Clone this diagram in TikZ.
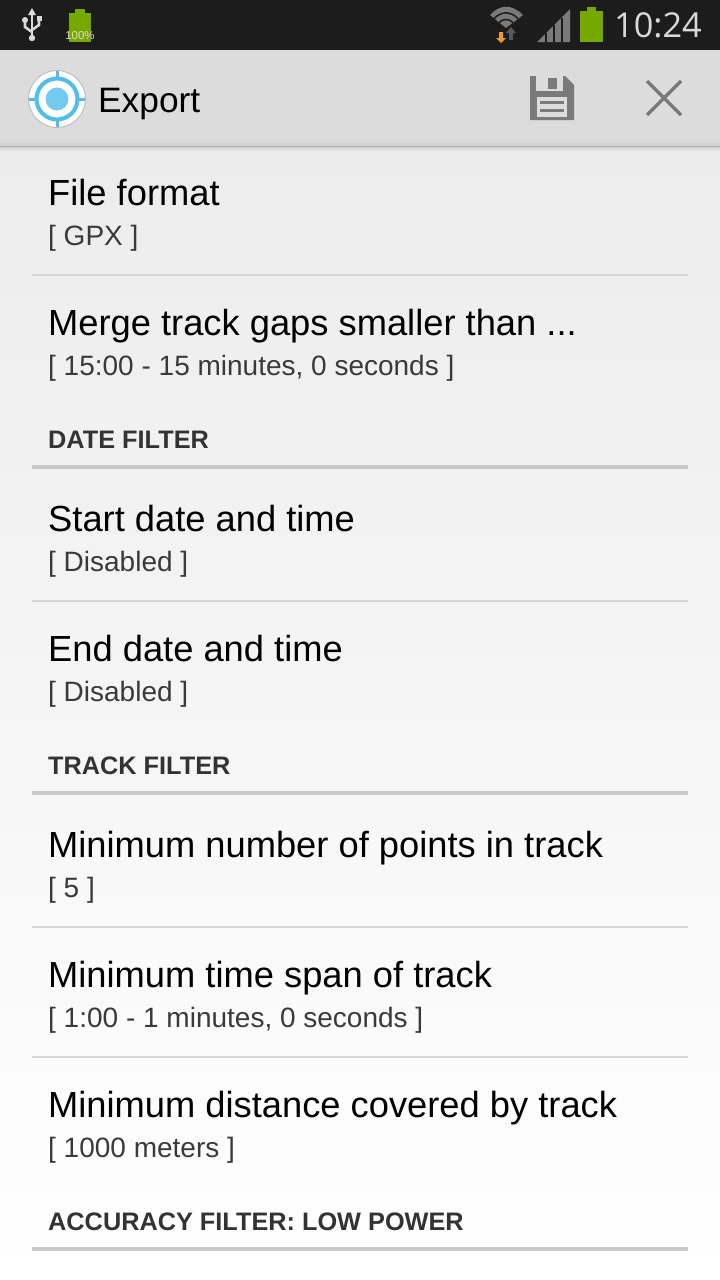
\documentclass[tikz,border=0pt]{standalone}
\usepackage{fontspec}
\setmainfont{Liberation Sans}
\newfontfamily\clockfont{Open Sans}
\usetikzlibrary{positioning}
\definecolor{barblack}{HTML}{1C1C1C}
\definecolor{bargray}{HTML}{DCDCDC}
\definecolor{bandgray}{HTML}{D2D2D2}
\definecolor{bgtop}{HTML}{ECECEC}
\definecolor{bgbottom}{HTML}{FFFFFF}
\definecolor{rulelight}{HTML}{D6D6D6}
\definecolor{ruledark}{HTML}{C8C8C8}
\definecolor{shadowgray}{HTML}{B0B0B0}
\definecolor{icongray}{HTML}{7A7A7A}
\definecolor{batgreen}{HTML}{76A900}
\definecolor{skyblue}{HTML}{4FBDEE}
\definecolor{subtext}{HTML}{3A3A3A}
\definecolor{headtext}{HTML}{333333}
\definecolor{arroworange}{HTML}{E89A2C}
\tikzset{
  itemtitle/.style={anchor=base west, inner sep=0pt, font=\fontsize{36.3}{36}\selectfont, text=black},
  itemvalue/.style={anchor=base west, inner sep=0pt, font=\fontsize{28}{28}\selectfont, text=subtext},
  sectionhead/.style={anchor=base west, inner sep=0pt, font=\fontsize{25.3}{26}\selectfont\bfseries, text=headtext},
  thinrule/.style={draw=rulelight, line width=2pt},
  thickrule/.style={draw=ruledark, line width=4pt},
}
\begin{document}
\begin{tikzpicture}[x=1pt, y=-1pt]
    \useasboundingbox (0,0) rectangle (720,1280);
    % background
    \shade[top color=bgtop, bottom color=bgbottom] (0,146) rectangle (720,1280);
    \fill[barblack] (0,0) rectangle (720,50);
    \fill[bargray] (0,50) rectangle (720,143);
    \fill[bandgray] (0,143) rectangle (720,146);
    \fill[shadowgray] (0,146) rectangle (720,147.5);
    \shade[top color=black!16, bottom color=bgtop] (0,147.5) rectangle (720,151);

    % status bar, left
    \draw[white!85!black, line width=2.6pt] (32,14) -- (32,36);
    \draw[white!85!black, line width=2.6pt] (25,22) -- (25,27) -- (32,32);
    \draw[white!85!black, line width=2.6pt] (39,19) -- (39,25) -- (32,30);
    \fill[white!85!black] (32,8) -- (36,15) -- (28,15) -- cycle;
    \fill[white!85!black] (32,38) circle (3.2);
    \fill[white!85!black] (25,20) circle (3);
    \fill[white!85!black] (37,16) rectangle (42,21);
    \fill[batgreen] (69,13) rectangle (91,42);
    \fill[batgreen] (75,9) rectangle (85,13);
    \node[inner sep=0pt, font=\fontsize{11.5}{12}\selectfont, text=white!85!black] (pct) at (80,36) {100\%};

    % status bar, right
    \fill[icongray] (506,28) -- (490,15) .. controls (500,4) and (512,4) .. (523,15) -- cycle;
    \draw[barblack, line width=1.5pt] (494,18.5) .. controls (502,11) and (510,11) .. (518,18.5);
    \draw[barblack, line width=1.5pt] (499,22.5) .. controls (503,18.5) and (509,18.5) .. (513,22.5);
    \fill[black!65] (511,27) -- (516,33) -- (513,33) -- (513,40) -- (509,40) -- (509,33) -- (506,33) -- cycle;
    \fill[arroworange] (499,32) -- (503,32) -- (503,38) -- (506,38) -- (501,43) -- (496,38) -- (499,38) -- cycle;
    \fill[icongray] (537,42) -- (570,9) -- (570,42) -- cycle;
    \fill[barblack] (545,33) rectangle (547,42);
    \fill[barblack] (553,25) rectangle (555,42);
    \fill[barblack] (561,18) rectangle (563,42);
    \fill[batgreen] (580,11) rectangle (603,42);
    \fill[batgreen] (587,7) rectangle (596,11);
    \node[anchor=base east, inner sep=0pt, font=\clockfont\fontsize{34.3}{35}\selectfont, text=white!85!black] (clock) at (702,37) {10:24};

    % action bar
    \fill[white] (57,99) circle (28.5);
    \draw[black!25, line width=1pt] (57,99) circle (28.5);
    \draw[skyblue, line width=4pt] (57,99) circle (20.5);
    \fill[skyblue!80] (57,99) circle (11.5);
    \draw[skyblue, line width=3pt] (57,71) -- (57,79) (57,119) -- (57,127) (29,99) -- (37,99) (77,99) -- (85,99);
    \node[anchor=base west, inner sep=0pt, font=\fontsize{35.3}{35}\selectfont] (title) at (98,112) {Export};

    \fill[icongray] (530,76) -- (565,76) -- (574,85) -- (574,120) -- (530,120) -- cycle;
    \fill[bargray] (536,76) rectangle (563,91);
    \fill[icongray] (548,78) rectangle (557,89);
    \fill[bargray] (537,97) rectangle (567,117);
    \fill[icongray] (540,101) rectangle (564,104);
    \fill[icongray] (540,109) rectangle (564,112);
    \draw[icongray, line width=3.5pt] (647,81) -- (681,115) (681,81) -- (647,115);

    % list items
    \node[itemtitle] (format) at (48,205) {File format};
    \node[itemvalue] (formatval) at (48,245) {[ GPX ]};
    \draw[thinrule] (32,275) -- (688,275);
    \node[itemtitle] (merge) at (48,335) {Merge track gaps smaller than ...};
    \node[itemvalue] (mergeval) at (48,375) {[ 15:00 - 15 minutes, 0 seconds ]};
    \node[sectionhead] (datehead) at (48,448) {DATE FILTER};
    \draw[thickrule] (32,467) -- (688,467);
    \node[itemtitle] (start) at (48,531) {Start date and time};
    \node[itemvalue] (startval) at (48,571) {[ Disabled ]};
    \draw[thinrule] (32,601) -- (688,601);
    \node[itemtitle] (end) at (48,661) {End date and time};
    \node[itemvalue] (endval) at (48,701) {[ Disabled ]};
    \node[sectionhead] (trackhead) at (48,774) {TRACK FILTER};
    \draw[thickrule] (32,793) -- (688,793);
    \node[itemtitle] (points) at (48,857) {Minimum number of points in track};
    \node[itemvalue] (pointsval) at (48,897) {[ 5 ]};
    \draw[thinrule] (32,927) -- (688,927);
    \node[itemtitle] (span) at (48,987) {Minimum time span of track};
    \node[itemvalue] (spanval) at (48,1027) {[ 1:00 - 1 minutes, 0 seconds ]};
    \draw[thinrule] (32,1057) -- (688,1057);
    \node[itemtitle] (dist) at (48,1117) {Minimum distance covered by track};
    \node[itemvalue] (distval) at (48,1157) {[ 1000 meters ]};
    \node[sectionhead] (accuracyhead) at (48,1230) {ACCURACY FILTER: LOW POWER};
    \draw[thickrule] (32,1249) -- (688,1249);
  \end{tikzpicture}
\end{document}
